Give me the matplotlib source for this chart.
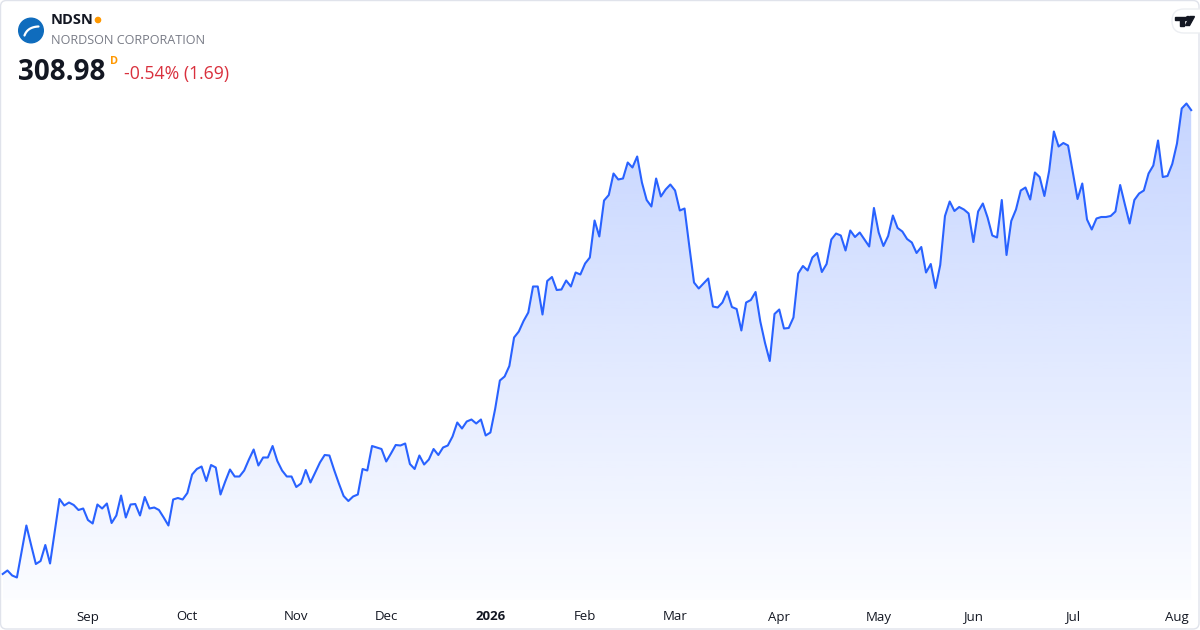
import matplotlib
matplotlib.use('Agg')
import matplotlib.pyplot as plt
from matplotlib.patches import Circle, FancyBboxPatch, Polygon
import numpy as np
import pandas as pd

# NDSN daily closes
prices = [
    216.2, 216.9, 215.9, 215.5, 220.7, 225.9, 222.0, 218.2, 218.8, 222.0,
    218.3, 224.8, 231.2, 229.9, 230.5, 230.0, 229.0, 229.3, 227.0, 226.3,
    230.1, 229.3, 230.3, 226.4, 227.9, 231.9, 227.5, 230.1, 230.2, 227.9,
    231.6, 229.3, 229.5, 229.0, 227.5, 225.9, 231.1, 231.4, 231.1, 232.4,
    236.1, 237.2, 237.7, 234.8, 238.0, 237.5, 232.1, 234.7, 237.1, 235.7,
    235.7, 236.9, 239.1, 241.1, 237.9, 239.5, 239.5, 241.8, 238.8, 236.9,
    235.7, 235.7, 233.6, 234.3, 237.0, 234.5, 236.5, 238.5, 240.0, 239.9,
    237.0, 234.3, 231.8, 230.8, 231.7, 232.1, 237.2, 236.9, 241.8, 241.5,
    241.2, 238.7, 240.3, 242.0, 241.9, 242.3, 238.2, 237.2, 239.9, 238.1,
    239.1, 241.2, 240.0, 241.5, 241.9, 243.7, 246.5, 245.3, 246.7, 247.1,
    246.3, 247.1, 243.9, 244.5, 249.2, 254.9, 255.7, 257.8, 263.5, 264.7,
    266.8, 268.5, 273.7, 273.7, 268.1, 274.8, 275.6, 273.0, 273.1, 274.9,
    273.7, 276.5, 276.1, 278.3, 279.5, 286.9, 283.7, 290.9, 292.0, 296.3,
    295.1, 295.3, 298.5, 297.5, 299.7, 294.5, 291.0, 289.7, 295.3, 291.7,
    293.1, 294.1, 292.9, 288.9, 289.3, 281.8, 274.5, 273.3, 274.3, 275.3,
    269.7, 269.5, 270.5, 272.7, 269.6, 269.2, 264.9, 270.5, 271.0, 272.6,
    266.7, 262.4, 258.8, 268.2, 269.1, 265.3, 265.4, 267.5, 276.3, 277.8,
    276.9, 279.5, 280.4, 276.6, 278.2, 283.1, 284.3, 283.9, 280.9, 284.9,
    283.6, 284.5, 283.1, 281.7, 289.4, 284.5, 281.8, 283.8, 287.9, 285.4,
    284.7, 283.2, 282.5, 280.4, 281.6, 276.5, 278.2, 273.4, 278.0, 287.8,
    290.7, 288.8, 289.6, 289.1, 288.3, 282.6, 288.7, 290.3, 287.5, 283.9,
    283.5, 291.0, 280.0, 286.8, 289.1, 292.9, 293.5, 291.1, 296.5, 295.6,
    291.8, 296.8, 304.7, 301.7, 302.4, 301.9, 296.5, 291.2, 294.3, 287.1,
    285.1, 287.3, 287.6, 287.6, 287.8, 288.7, 294.0, 290.1, 286.3, 291.0,
    292.3, 292.9, 296.3, 297.9, 302.9, 295.6, 295.8, 298.2, 302.3, 309.3,
    310.3, 308.98,
]

start_date = '2025-08-06'
holidays = ['2025-09-01', '2025-11-27', '2025-12-25', '2026-01-01', '2026-01-19',
            '2026-02-16', '2026-04-03', '2026-05-25', '2026-06-19', '2026-07-03']

ticker = 'NDSN'
company = 'NORDSON CORPORATION'
last_price = '308.98'
change_text = '-0.54% (1.69)'

dates = pd.bdate_range(start=start_date, periods=len(prices), freq='C', holidays=holidays)
x = np.arange(len(prices))
y = np.array(prices)

line_color = '#2962FF'
W, H = 1200, 630
step = 4.735  # px per trading day

fig = plt.figure(figsize=(W / 100, H / 100), dpi=100)
fig.patch.set_facecolor('white')

# main chart area: pixel rows 0..600, full width
ax = fig.add_axes([0, 30 / H, 1, 600 / H])
ax.axis('off')

# gradient fill under the line
poly = ax.fill_between(x, y, 211, color='none', lw=0)
grad = np.linspace(0.015, 0.27, 256).reshape(-1, 1)
rgba = np.zeros((256, 1, 4))
rgba[..., 0] = 41 / 255
rgba[..., 1] = 98 / 255
rgba[..., 2] = 1.0
rgba[..., 3] = grad
img = ax.imshow(rgba, aspect='auto', origin='lower',
                extent=[x[0], x[-1], 211, y.max()], zorder=1)
img.set_clip_path(poly.get_paths()[0], transform=ax.transData)

ax.plot(x, y, color=line_color, lw=1.5, zorder=3, solid_joinstyle='round')
ax.set_xlim(-2.7 / step, (W - 2.7) / step)
ax.set_ylim(211, 331)

# overlay in pixel coordinates for header, month labels and frame
ov = fig.add_axes([0, 0, 1, 1], zorder=5)
ov.set_xlim(0, W)
ov.set_ylim(H, 0)
ov.axis('off')
ov.patch.set_alpha(0)

# month labels at first trading day of each month
first_idx = [i for i in range(1, len(dates)) if dates[i].month != dates[i - 1].month]
for i in first_idx:
    px = 2.7 + i * step
    d = dates[i]
    if d.month == 1:
        ov.text(px, 617, str(d.year), ha='center', va='center', fontsize=9.5,
                color='#131722', fontweight='bold', family='Open Sans')
    else:
        ov.text(px, 617, d.strftime('%b'), ha='center', va='center', fontsize=9.5,
                color='#131722', family='Open Sans')

# frame
ov.add_patch(FancyBboxPatch((0.5, 0.5), W - 1.5, H - 1.5,
                            boxstyle='round,pad=0,rounding_size=6',
                            fc='none', ec='#e0e3eb', lw=1.0))

# logo
ov.add_patch(Circle((31, 30.5), 12.3, color='#0f6cbd'))
t = np.linspace(0, 1, 30)
p0, p1, p2 = np.array([24.5, 35.5]), np.array([27.5, 27.0]), np.array([38.5, 26.5])
curve = ((1 - t) ** 2)[:, None] * p0 + (2 * (1 - t) * t)[:, None] * p1 + (t ** 2)[:, None] * p2
ov.plot(curve[:, 0], curve[:, 1], color='white', lw=1.6, solid_capstyle='round')

ov.text(51, 20, ticker, fontsize=10.5, fontweight='bold', color='#131722',
        va='center', ha='left', family='Open Sans')
ov.add_patch(Circle((98, 20), 2.6, color='#ff9800'))
ov.text(51, 40.5, company, fontsize=9.1, color='#787b86', va='center', ha='left',
        family='Open Sans')
ov.text(18, 72, last_price, fontsize=20, fontweight='bold', color='#131722',
        va='center', ha='left', family='Open Sans')
ov.text(110, 61, 'D', fontsize=7.8, fontweight='bold', color='#ff9800',
        va='center', ha='left', family='Open Sans')
ov.text(123.5, 74, change_text, fontsize=12.7, color='#d9303d', va='center', ha='left',
        family='Open Sans')

# TradingView badge
ov.add_patch(FancyBboxPatch((1172, 9), 40, 24, boxstyle='round,pad=0,rounding_size=12',
                            fc='white', ec='#eceef2', lw=1.0))
ov.add_patch(Polygon([(1175, 16.5), (1185.5, 16.5), (1185.5, 20), (1183.5, 20),
                      (1183.5, 25.5), (1180, 25.5), (1180, 20), (1175, 20)],
                     closed=True, color='#131722'))
ov.add_patch(Circle((1188, 18.3), 1.8, color='#131722'))
ov.add_patch(Polygon([(1190, 16.5), (1194.5, 16.5), (1189.5, 25.5), (1185.5, 25.5)],
                     closed=True, color='#131722'))

fig.savefig('out.png', dpi=100)
